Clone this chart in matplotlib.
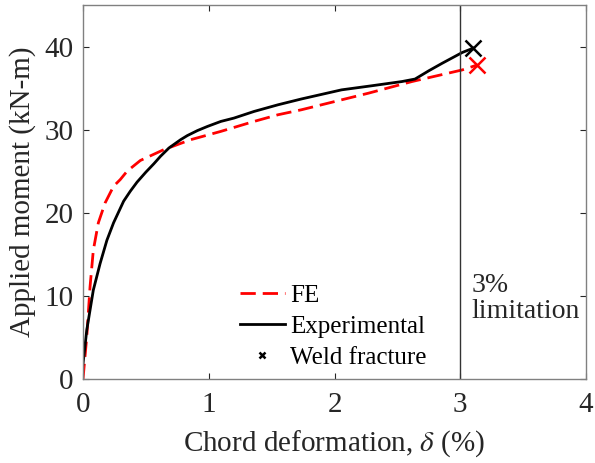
import matplotlib
matplotlib.use('Agg')
import matplotlib.pyplot as plt

plt.rcParams['font.family'] = ['Liberation Serif', 'DejaVu Serif']
plt.rcParams['mathtext.fontset'] = 'stix'

# experimental curve
exp_x = [0.0, 0.03, 0.082, 0.136, 0.19, 0.243, 0.323, 0.376, 0.43, 0.5, 0.563, 0.616, 0.683,
         0.776, 0.83, 0.91, 0.99, 1.096, 1.2, 1.36, 1.55, 1.736, 2.056, 2.3, 2.536, 2.64,
         2.75, 2.856, 3.016, 3.10]
exp_y = [1.8, 5.9, 10.7, 13.9, 16.7, 18.8, 21.4, 22.6, 23.7, 24.9, 25.9, 26.8, 27.8,
         28.8, 29.3, 29.9, 30.4, 31.0, 31.4, 32.2, 33.0, 33.7, 34.8, 35.3, 35.8, 36.1,
         37.1, 38.0, 39.3, 39.8]

# FE curve
fe_x = [0.0, 0.03, 0.056, 0.082, 0.122, 0.176, 0.243, 0.296, 0.35, 0.456, 0.642, 0.856, 1.096,
        1.36, 1.55, 1.736, 2.27, 2.616, 3.016, 3.136]
fe_y = [0.0, 5.1, 11.1, 15.5, 18.8, 21.2, 23.2, 24.0, 25.0, 26.3, 27.6, 28.8, 29.8,
        31.0, 31.8, 32.4, 34.4, 35.8, 37.2, 37.8]

frac_exp = (3.10, 39.8)
frac_fe = (3.136, 37.8)

fig = plt.figure(figsize=(5.95, 4.63), dpi=100)
ax = fig.add_axes([0.1395, 0.1814, 0.8455, 0.8076])

ax.plot(fe_x, fe_y, '--', color='red', lw=2, dashes=(5.5, 2.5), label='FE')
ax.plot(exp_x, exp_y, '-', color='black', lw=2, label='Experimental')
ax.plot(*frac_exp, 'x', color='black', ms=11, mew=1.8)
ax.plot(*frac_fe, 'x', color='red', ms=12, mew=1.8)
ax.plot([], [], 'x', color='black', ms=5, mew=1.8, label='Weld fracture')

ax.axvline(3, color='#333333', lw=1)
ax.text(3.09, 9.7, '3%\nlimitation', fontsize=20, va='center', ha='left',
        linespacing=1.05, color='#262626')

ax.set_xlim(0, 4)
ax.set_ylim(0, 45)
ax.set_xticks([0, 1, 2, 3, 4])
ax.set_yticks([0, 10, 20, 30, 40])
ax.tick_params(direction='in', top=True, right=True, labelsize=21, colors='#262626',
               length=4)
ax.tick_params(axis='x', pad=9)
ax.tick_params(axis='y', pad=7)
for s in ax.spines.values():
    s.set_color('#808080')
    s.set_linewidth(1)

ax.set_xlabel('Chord deformation, $\\delta$ (%)', fontsize=21, color='#262626', labelpad=8)
ax.set_ylabel('Applied moment (kN-m)', fontsize=21, color='#262626', labelpad=6)

ax.legend(loc='center left', bbox_to_anchor=(0.312, 0.14), frameon=False, fontsize=18,
          handlelength=1.8, handletextpad=0.2, labelspacing=0.33, borderpad=0,
          borderaxespad=0)

fig.savefig('out.png', dpi=100)
